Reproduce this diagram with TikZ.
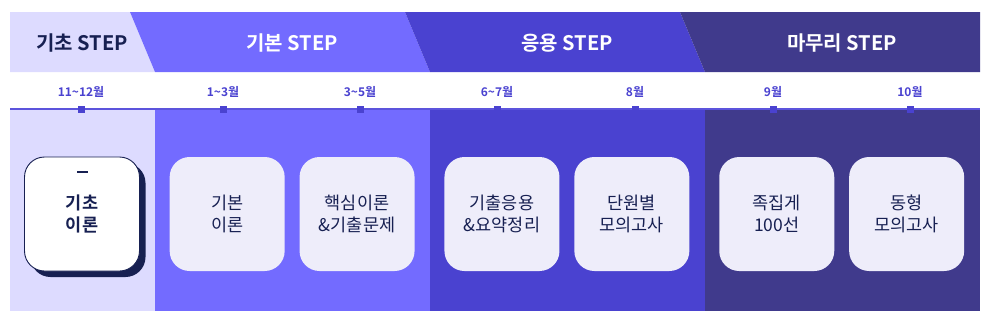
\documentclass[tikz,border=0pt]{standalone}
\usepackage{fontspec}
\setmainfont{Noto Sans CJK KR}[BoldFont={Noto Sans CJK KR Bold}]
\usetikzlibrary{positioning,shadows}
\definecolor{lightlav}{HTML}{DDDBFF}
\definecolor{basepurple}{HTML}{736BFF}
\definecolor{applyblue}{HTML}{4A42D0}
\definecolor{finalnavy}{HTML}{403A8C}
\definecolor{inknavy}{HTML}{172052}
\definecolor{cardfill}{HTML}{EEEDFA}
\definecolor{linecol}{HTML}{5C54DC}
\tikzset{
  card/.style={rounded corners=20pt, fill=cardfill, minimum width=115pt, minimum height=114pt, align=center, text=inknavy, inner sep=0pt, font=\fontsize{17.5}{22}\selectfont},
  keycard/.style={card, fill=white, draw=inknavy, line width=0.9pt, font=\bfseries\fontsize{17.5}{22}\selectfont, drop shadow={shadow xshift=6pt, shadow yshift=-6pt, fill=inknavy, opacity=1}},
  dashbar/.style={fill=inknavy, minimum width=11pt, minimum height=2.6pt, inner sep=0pt},
  steplabel/.style={font=\bfseries\fontsize{20}{24}\selectfont, text=white},
  monthlabel/.style={font=\bfseries\fontsize{12}{14}\selectfont, text=applyblue, inner sep=0pt},
  tickmark/.style={fill=applyblue, minimum size=7pt, inner sep=0pt},
  timeline/.style={draw=linecol, line width=1.4pt}
}

\begin{document}
\begin{tikzpicture}[x=1pt, y=-1pt]
  \useasboundingbox (0,0) rectangle (998,327);

  % header bands
  \fill[lightlav] (10,12) -- (130,12) -- (155,72) -- (10,72) -- cycle;
  \fill[basepurple] (130,12) -- (405,12) -- (430,72) -- (155,72) -- cycle;
  \fill[applyblue] (405,12) -- (680,12) -- (705,72) -- (430,72) -- cycle;
  \fill[finalnavy] (680,12) -- (980,12) -- (980,72) -- (705,72) -- cycle;

  % lower bands
  \fill[lightlav] (10,109) rectangle (155,311);
  \fill[basepurple] (155,109) rectangle (430,311);
  \fill[applyblue] (430,109) rectangle (705,311);
  \fill[finalnavy] (705,109) rectangle (980,311);

  \node[steplabel, text=inknavy] (basic) at (82,43) {기초 STEP};
  \node[steplabel] (core) at (292,43) {기본 STEP};
  \node[steplabel] (apply) at (567,43) {응용 STEP};
  \node[steplabel] (final) at (842,43) {마무리 STEP};

  % timeline
  \coordinate (tl-start) at (10,109);
  \coordinate (tl-end) at (980,109);
  \draw[timeline] (tl-start) -- (tl-end);
  \foreach \x/\m [count=\i] in {81/11\textasciitilde12월,223/1\textasciitilde3월,360/3\textasciitilde5월,497/6\textasciitilde7월,635/8월,773/9월,910/10월} {
    \node[tickmark] (t\i) at (\x,109.5) {};
    \node[monthlabel, above=8pt of t\i] (m\i) {\m};
  }

  % cards
  \node[keycard] (key) at (82,214) {기초\\이론};
  \node[dashbar, below=14pt of key.north] (keydash) {};
  \node[card, right=29.5pt of key] (theory) {기본\\이론};
  \node[card, right=14.5pt of theory] (coreq) {핵심이론\\\&기출문제};
  \node[card, right=29.5pt of coreq] (summary) {기출응용\\\&요약정리};
  \node[card, right=14.5pt of summary] (unitmock) {단원별\\모의고사};
  \node[card, right=29.5pt of unitmock] (pick) {족집게\\100선};
  \node[card, right=14.5pt of pick] (samemock) {동형\\모의고사};
\end{tikzpicture}
\end{document}
